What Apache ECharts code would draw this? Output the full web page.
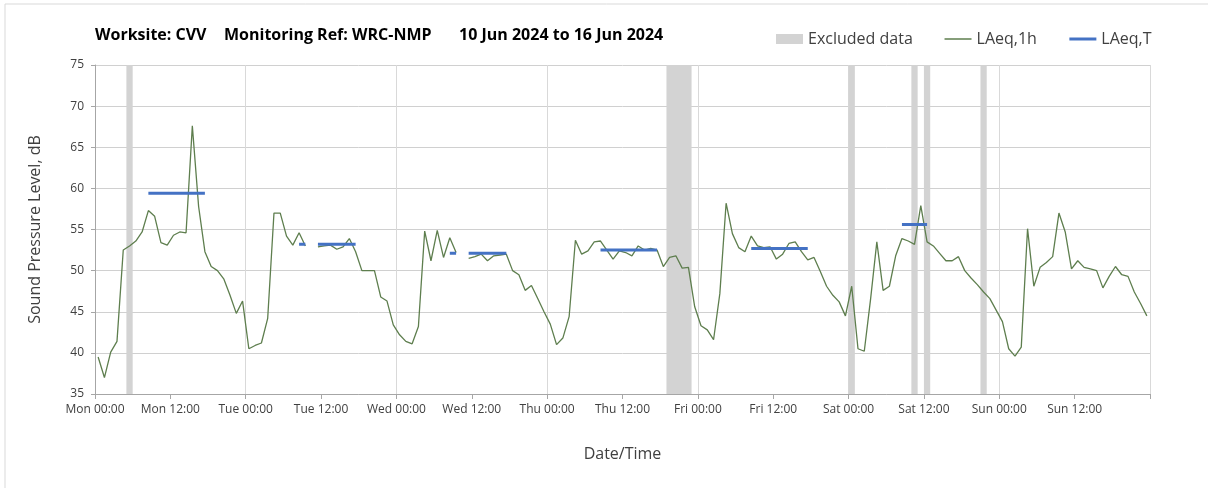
<!DOCTYPE html>
<html>
<head>
<meta charset="utf-8">
<title>LAeq chart</title>
<script src="https://cdn.jsdelivr.net/npm/echarts@6/dist/echarts.min.js"></script>
<style>
  html, body { margin: 0; padding: 0; background: #fff; }
  #chart { width: 1208px; height: 488px; }
</style>
</head>
<body>
<div id="chart"></div>
<script>
// hourly LAeq,1h values (dB), one per hour starting Mon 00:00; null = no data
const laeq1h = [
  39.5, 37.0, 40.1, 41.4, 52.5, 53.0, 53.6, 54.7, 57.3, 56.6, 53.4, 53.1,
  54.3, 54.7, 54.6, 67.6, 57.8, 52.3, 50.5, 50.0, 49.0, 47.0, 44.8, 46.3,
  40.5, 40.9, 41.2, 44.2, 57.0, 57.0, 54.2, 53.1, 54.6, 53.0, null, 52.9,
  53.0, 53.1, 52.6, 52.9, 53.9, 52.3, 50.0, 50.0, 50.0, 46.8, 46.3, 43.4,
  42.2, 41.4, 41.1, 43.2, 54.8, 51.2, 54.9, 51.6, 54.0, 52.2, null, 51.5,
  51.7, 52.0, 51.2, 51.8, 51.9, 52.0, 50.0, 49.5, 47.6, 48.2, 46.6, 45.0,
  43.5, 41.0, 41.8, 44.4, 53.7, 52.0, 52.4, 53.5, 53.6, 52.5, 51.4, 52.4,
  52.2, 51.8, 53.0, 52.5, 52.7, 52.5, 50.5, 51.6, 51.8, 50.3, 50.4, 45.6,
  43.3, 42.8, 41.6, 47.2, 58.2, 54.5, 52.8, 52.3, 54.2, 53.0, 52.8, 52.9,
  51.4, 52.0, 53.3, 53.5, 52.3, 51.3, 51.6, 49.9, 48.1, 47.0, 46.2, 44.5,
  48.1, 40.5, 40.2, 46.5, 53.5, 47.6, 48.1, 51.8, 53.9, 53.6, 53.2, 57.9,
  53.5, 53.0, 52.1, 51.2, 51.2, 51.7, 50.0, 49.1, 48.3, 47.4, 46.6, 45.2,
  43.8, 40.5, 39.6, 40.7, 55.1, 48.1, 50.4, 51.0, 51.7, 57.0, 54.7, 50.2,
  51.2, 50.4, 50.2, 50.0, 47.9, 49.3, 50.5, 49.5, 49.3, 47.4, 46.0, 44.5
]

// LAeq,T periods: first hour, last hour, level (dB)
const laeqTStart = [8, 32, 35, 56, 59, 80, 104, 128]
const laeqTEnd = [17, 33, 41, 57, 65, 89, 113, 132]
const laeqTValue = [59.4, 53.2, 53.2, 52.1, 52.1, 52.5, 52.7, 55.6]

// excluded data bands (hours from Mon 00:00)
const excludedFrom = [5, 91, 120, 130, 132, 141]
const excludedTo = [6, 95, 121, 131, 133, 142]

const dayNames = ['Mon', 'Tue', 'Wed', 'Thu', 'Fri', 'Sat', 'Sun']

const myChart = echarts.init(document.getElementById('chart'))
const font = "'Open Sans', 'Liberation Sans', sans-serif"
const titleStyle = { fontSize: 16, fontWeight: 'bold', color: '#000', fontFamily: font }

let lineData = laeq1h.map((v, i) => [i + 0.5, v])

let tData = []
for (let i = 0; i < laeqTStart.length; i++) {
  tData.push([laeqTStart[i] + 0.5, laeqTValue[i]])
  tData.push([laeqTEnd[i] + 0.5, laeqTValue[i]])
  tData.push([laeqTEnd[i] + 1, null])
}

let bands = excludedFrom.map((f, i) => [{ xAxis: f }, { xAxis: excludedTo[i] }])

let option = {
  animation: false,
  textStyle: { fontFamily: font },
  graphic: [
    // chart area border (left and top only visible)
    { type: 'line', shape: { x1: 5, y1: 4, x2: 5, y2: 488 }, style: { stroke: '#d9d9d9', lineWidth: 1 } },
    { type: 'line', shape: { x1: 5, y1: 4, x2: 1208, y2: 4 }, style: { stroke: '#d9d9d9', lineWidth: 1 } }
  ],
  title: [
    { text: 'Worksite: CVV', left: 95, top: 27, padding: 0, textStyle: titleStyle },
    { text: 'Monitoring Ref: WRC-NMP', left: 224, top: 27, padding: 0, textStyle: titleStyle },
    { text: '10 Jun 2024 to 16 Jun 2024', left: 459, top: 27, padding: 0, textStyle: titleStyle }
  ],
  legend: {
    left: 776,
    top: 31,
    padding: 0,
    itemWidth: 27,
    itemHeight: 10,
    itemGap: 31,
    textStyle: { fontSize: 16, color: '#404040', fontFamily: font },
    data: [
      { name: 'Excluded data', icon: 'rect', itemStyle: { color: '#d3d3d3' } },
      { name: 'LAeq,1h', itemStyle: { opacity: 0 }, lineStyle: { width: 1.5 } },
      { name: 'LAeq,T', itemStyle: { opacity: 0 }, lineStyle: { width: 3 } }
    ]
  },
  grid: {
    left: 95,
    right: 58,
    top: 65,
    bottom: 94
  },
  xAxis: {
    type: 'value',
    min: 0,
    max: 168,
    interval: 12,
    name: 'Date/Time',
    nameLocation: 'middle',
    nameGap: 52,
    nameTextStyle: { fontSize: 16, color: '#404040' },
    axisLine: { lineStyle: { color: '#a6a6a6' } },
    axisTick: { length: 5, lineStyle: { color: '#a6a6a6' } },
    axisLabel: {
      fontSize: 12,
      color: '#404040',
      margin: 10,
      formatter: function (v) {
        if (v >= 168) return ''
        return dayNames[Math.floor(v / 24)] + ' ' + (v % 24 === 0 ? '00:00' : '12:00')
      }
    },
    splitLine: {
      show: true,
      lineStyle: { color: ['#d9d9d9', 'rgba(0,0,0,0)'] }
    }
  },
  yAxis: {
    type: 'value',
    min: 35,
    max: 75,
    interval: 5,
    name: 'Sound Pressure Level, dB',
    nameLocation: 'middle',
    nameGap: 52,
    nameTextStyle: { fontSize: 16, color: '#404040' },
    axisLine: { show: true, lineStyle: { color: '#a6a6a6' } },
    axisTick: { show: true, length: 4, lineStyle: { color: '#a6a6a6' } },
    axisLabel: { fontSize: 12, color: '#404040', margin: 11 },
    splitLine: { lineStyle: { color: '#d0d0d0' } }
  },
  series: [
    {
      name: 'Excluded data',
      type: 'line',
      data: [],
      itemStyle: { color: '#d3d3d3' },
      markArea: {
        silent: true,
        itemStyle: { color: '#d3d3d3' },
        data: bands
      }
    },
    {
      name: 'LAeq,1h',
      type: 'line',
      data: lineData,
      symbol: 'none',
      connectNulls: false,
      itemStyle: { color: '#5e7e4e' },
      lineStyle: { color: '#5e7e4e', width: 1.3 }
    },
    {
      name: 'LAeq,T',
      type: 'line',
      data: tData,
      symbol: 'none',
      connectNulls: false,
      itemStyle: { color: '#4472c4' },
      lineStyle: { color: '#4472c4', width: 3 }
    }
  ]
}

myChart.setOption(option)
window.addEventListener('resize', function () {
  myChart.resize()
})
</script>
</body>
</html>
